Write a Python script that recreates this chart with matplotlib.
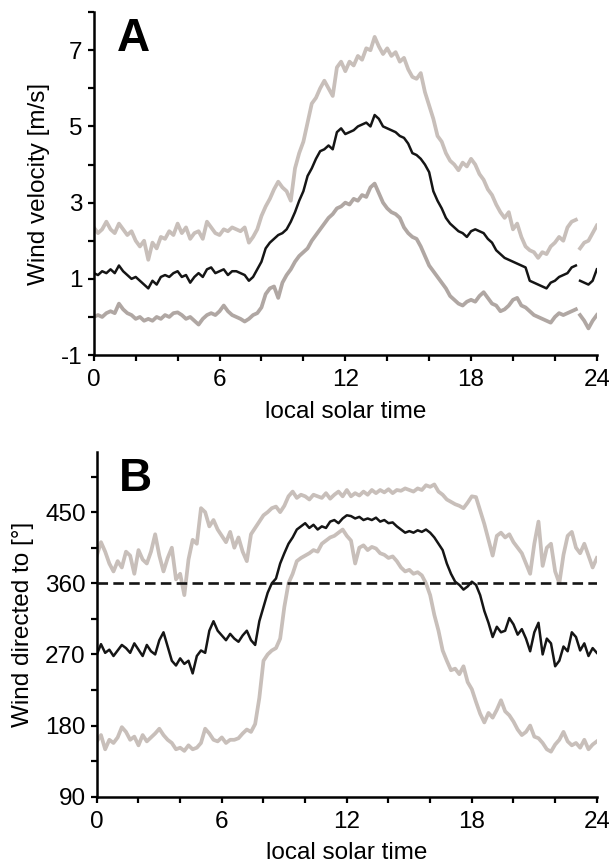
import numpy as np
import matplotlib.pyplot as plt

plt.rcParams['font.family'] = ['Liberation Sans', 'DejaVu Sans']

# time axis (local solar time, h); panel A has a short data gap after 23.0 h
hours_a = list(np.round(np.arange(0, 23.01, 0.2), 1)) + [np.nan] + list(np.round(np.arange(23.2, 24.01, 0.2), 1))
hours_b = np.round(np.arange(0, 24.01, 0.2), 1)

# A: wind velocity [m/s]
vel_upper = [2.35, 2.2, 2.3, 2.5, 2.3, 2.2, 2.45, 2.3, 2.15, 2.25,
             2.0, 1.85, 2.0, 1.5, 1.95, 1.8, 2.1, 2.05, 2.25, 2.15,
             2.45, 2.2, 2.35, 2.05, 2.2, 2.25, 2.05, 2.5, 2.35, 2.2,
             2.15, 2.3, 2.25, 2.35, 2.3, 2.25, 2.35, 1.95, 2.1, 2.3,
             2.65, 2.9, 3.1, 3.35, 3.55, 3.4, 3.3, 3.05, 3.9, 4.3,
             4.6, 5.1, 5.6, 5.75, 6.0, 6.2, 6.0, 5.8, 6.55, 6.7,
             6.45, 6.7, 6.6, 6.85, 6.75, 7.05, 7.0, 7.35, 7.1, 6.9,
             7.05, 6.85, 6.95, 6.7, 6.8, 6.5, 6.3, 6.25, 6.4, 5.9,
             5.55, 5.2, 4.75, 4.6, 4.3, 4.1, 4.0, 3.85, 4.05, 3.95,
             4.15, 4.0, 3.75, 3.6, 3.35, 3.2, 2.95, 2.75, 2.6, 2.75,
             2.3, 2.45, 2.1, 1.85, 1.75, 1.7, 1.55, 1.7, 1.65, 1.85,
             1.95, 2.1, 2.0, 2.35, 2.5, 2.55,
             np.nan, 1.8, 1.95, 2.0, 2.2, 2.4]
vel_mean = [1.15, 1.1, 1.2, 1.15, 1.25, 1.15, 1.35, 1.2, 1.1, 1.0,
            1.05, 0.95, 0.85, 0.75, 0.95, 0.85, 1.05, 1.1, 1.05, 1.15,
            1.2, 1.05, 1.1, 0.9, 1.05, 1.15, 1.05, 1.25, 1.3, 1.15,
            1.2, 1.25, 1.1, 1.2, 1.2, 1.15, 1.1, 0.95, 1.05, 1.25,
            1.45, 1.8, 1.95, 2.05, 2.15, 2.2, 2.3, 2.5, 2.75, 3.05,
            3.3, 3.7, 3.9, 4.15, 4.35, 4.4, 4.5, 4.4, 4.85, 4.95,
            4.8, 4.85, 4.9, 5.0, 5.05, 5.1, 5.0, 5.3, 5.2, 5.0,
            4.95, 4.9, 4.85, 4.75, 4.7, 4.55, 4.3, 4.25, 4.15, 4.0,
            3.8, 3.3, 3.05, 2.85, 2.6, 2.45, 2.35, 2.25, 2.2, 2.1,
            2.25, 2.3, 2.25, 2.2, 2.05, 1.95, 1.75, 1.65, 1.55, 1.5,
            1.45, 1.4, 1.35, 1.3, 0.95, 0.9, 0.85, 0.8, 0.75, 0.9,
            0.95, 1.05, 1.1, 1.15, 1.3, 1.35,
            np.nan, 0.95, 0.9, 0.85, 0.95, 1.25]
vel_lower = [0.0, 0.05, 0.0, 0.1, 0.15, 0.1, 0.35, 0.2, 0.1, 0.05,
             -0.05, 0.0, -0.1, -0.05, -0.1, 0.0, -0.05, 0.05, 0.0, 0.1,
             0.12, 0.05, -0.05, 0.0, -0.1, -0.2, -0.05, 0.05, 0.1, 0.05,
             0.15, 0.3, 0.15, 0.05, 0.0, -0.05, -0.12, -0.05, 0.05, 0.1,
             0.25, 0.6, 0.75, 0.8, 0.5, 0.9, 1.1, 1.25, 1.45, 1.6,
             1.7, 1.8, 2.0, 2.15, 2.3, 2.45, 2.6, 2.7, 2.85, 2.9,
             3.0, 2.95, 3.1, 3.05, 3.2, 3.15, 3.4, 3.5, 3.25, 3.0,
             2.85, 2.75, 2.7, 2.6, 2.35, 2.2, 2.1, 2.05, 1.85, 1.6,
             1.35, 1.2, 1.05, 0.9, 0.75, 0.55, 0.45, 0.35, 0.3, 0.4,
             0.45, 0.4, 0.55, 0.65, 0.5, 0.35, 0.3, 0.15, 0.2, 0.3,
             0.45, 0.5, 0.3, 0.25, 0.15, 0.05, 0.0, -0.05, -0.1, -0.15,
             0.0, 0.1, 0.05, 0.1, 0.15, 0.2,
             np.nan, 0.05, -0.1, -0.3, -0.1, 0.05]

# B: wind direction [deg]
dir_upper = [395, 412, 400, 385, 375, 388, 380, 400, 395, 372,
             402, 390, 385, 400, 422, 395, 375, 392, 405, 365,
             372, 345, 390, 415, 410, 455, 450, 432, 440, 428,
             420, 412, 425, 405, 418, 400, 388, 422, 430, 438,
             446, 450, 455, 457, 450, 458, 470, 476, 468, 472,
             470, 466, 472, 470, 468, 474, 467, 472, 476, 470,
             478, 470, 474, 471, 476, 472, 478, 474, 478, 475,
             479, 474, 478, 477, 480, 478, 476, 480, 478, 484,
             482, 485, 476, 472, 466, 463, 460, 458, 455, 462,
             470, 469, 452, 435, 415, 395, 420, 424, 418, 422,
             412, 405, 398, 385, 372, 410, 438, 382, 405, 410,
             375, 360, 396, 420, 425, 405, 398, 410, 395, 380,
             392]
dir_mean = [270, 283, 272, 276, 268, 275, 282, 278, 272, 284,
            276, 268, 282, 274, 270, 288, 298, 280, 262, 256,
            265, 258, 262, 246, 268, 275, 272, 300, 312, 300,
            294, 288, 296, 290, 286, 294, 300, 288, 282, 312,
            330, 348, 360, 366, 385, 398, 410, 418, 428, 432,
            436, 430, 434, 428, 432, 430, 438, 440, 436, 442,
            446, 445, 442, 444, 440, 442, 440, 443, 438, 440,
            436, 437, 432, 428, 424, 426, 424, 427, 425, 428,
            424, 418, 410, 402, 385, 372, 362, 358, 352, 356,
            362, 358, 345, 325, 310, 292, 305, 298, 300, 316,
            308, 295, 302, 290, 274, 298, 310, 270, 290, 284,
            255, 262, 280, 274, 298, 292, 275, 284, 268, 278,
            272]
dir_lower = [160, 168, 150, 162, 158, 165, 178, 172, 162, 166,
             155, 168, 160, 165, 170, 176, 168, 162, 158, 150,
             152, 148, 155, 150, 152, 158, 176, 170, 162, 160,
             165, 158, 162, 162, 164, 170, 175, 172, 182, 215,
             262, 270, 275, 278, 290, 330, 360, 372, 388, 392,
             395, 398, 402, 400, 410, 414, 418, 420, 424, 428,
             420, 414, 385, 405, 408, 402, 406, 404, 398, 396,
             392, 394, 388, 380, 375, 377, 372, 374, 370, 360,
             345, 320, 300, 275, 262, 250, 252, 245, 255, 235,
             226, 210, 195, 184, 196, 190, 200, 212, 198, 193,
             185, 175, 168, 172, 180, 166, 164, 158, 150, 147,
             156, 162, 172, 160, 155, 158, 152, 162, 150, 156,
             160]

c_light = '#c8bfba'
c_dark = '#b0a7a3'
c_black = '#151515'

fig = plt.figure(figsize=(6.09, 8.66), dpi=100)
ax1 = fig.add_axes([0.154, 0.590, 0.826, 0.396])
ax2 = fig.add_axes([0.159, 0.080, 0.821, 0.398])

ax1.plot(hours_a, vel_upper, color=c_light, lw=2.7, solid_joinstyle='round')
ax1.plot(hours_a, vel_lower, color=c_dark, lw=2.7, solid_joinstyle='round')
ax1.plot(hours_a, vel_mean, color=c_black, lw=1.8, solid_joinstyle='round')

ax2.plot(hours_b, dir_upper, color=c_light, lw=2.7, solid_joinstyle='round')
ax2.plot(hours_b, dir_lower, color=c_light, lw=2.7, solid_joinstyle='round')
ax2.plot(hours_b, dir_mean, color=c_black, lw=1.8, solid_joinstyle='round')
ax2.axhline(360, color=c_black, lw=1.9, ls=(0, (4, 2)), zorder=5)

ax1.set_ylim(-1, 8)
ax1.set_yticks(range(-1, 9))
ax1.set_yticklabels([str(v) if v % 2 else '' for v in range(-1, 9)])
ax1.set_ylabel('Wind velocity [m/s]', fontsize=17.5, labelpad=8)

ax2.set_ylim(90, 526)
ax2.set_yticks(range(90, 500, 45))
ax2.set_yticklabels([str(v) if v % 90 == 0 else '' for v in range(90, 500, 45)])
ax2.set_ylabel('Wind directed to [°]', fontsize=17.5, labelpad=8)

for ax, letter in ((ax1, 'A'), (ax2, 'B')):
    ax.set_xlim(0, 24)
    ax.set_xticks(range(0, 25, 2))
    ax.set_xticklabels([str(h) if h % 6 == 0 else '' for h in range(0, 25, 2)])
    ax.set_xlabel('local solar time', fontsize=17.5, labelpad=7)
    for s in ('top', 'right'):
        ax.spines[s].set_visible(False)
    for s in ('left', 'bottom'):
        ax.spines[s].set_linewidth(1.8)
    ax.tick_params(direction='out', length=4, width=1.6, labelsize=17.5)
    ax.tick_params(axis='x', pad=6)
    ax.tick_params(axis='y', pad=4)
    ax.text(0.045, 0.985, letter, transform=ax.transAxes, fontsize=33,
            fontweight='bold', va='top', ha='left')

fig.savefig('out.png', dpi=100)
